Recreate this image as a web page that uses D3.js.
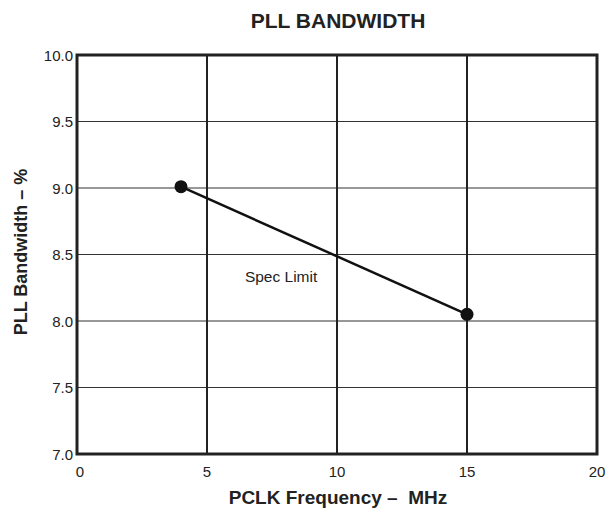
<!DOCTYPE html>
<html>
<head>
<meta charset="utf-8">
<script src="https://cdn.jsdelivr.net/npm/d3@7"></script>
<style>
  body { margin: 0; background: #fff; }
  text { font-family: "Liberation Sans", Arial, sans-serif; fill: #222; }
</style>
</head>
<body>
<svg width="614" height="512"></svg>
<script>
// chart data
const freqMHz = [4, 15];
const bandwidthPct = [9.01, 8.05];
const xTicks = [0, 5, 10, 15, 20];
const yTicks = [7.0, 7.5, 8.0, 8.5, 9.0, 9.5, 10.0];

const svg = d3.select("svg");
// plot box edges (window.top is taken, so prefix them)
const plotLeft = 77, plotRight = 597, plotTop = 55, plotBottom = 454;

const x = d3.scaleLinear().domain([0, 20]).range([plotLeft, plotRight]);
const y = d3.scaleLinear().domain([7, 10]).range([plotBottom, plotTop]);

// horizontal grid
svg.selectAll("line.hgrid")
    .data(yTicks.slice(1, -1))
    .join("line")
    .attr("x1", plotLeft).attr("x2", plotRight)
    .attr("y1", d => y(d)).attr("y2", d => y(d))
    .attr("stroke", "#333").attr("stroke-width", 1.2);

// vertical grid
svg.selectAll("line.vgrid")
    .data(xTicks.slice(1, -1))
    .join("line")
    .attr("x1", d => x(d)).attr("x2", d => x(d))
    .attr("y1", plotTop).attr("y2", plotBottom)
    .attr("stroke", "#222").attr("stroke-width", 2);

// frame
svg.append("rect")
    .attr("x", plotLeft).attr("y", plotTop)
    .attr("width", plotRight - plotLeft).attr("height", plotBottom - plotTop)
    .attr("fill", "none").attr("stroke", "#222").attr("stroke-width", 3);

// tick labels
svg.selectAll("text.ylab")
    .data(yTicks)
    .join("text")
    .attr("x", plotLeft - 4).attr("y", d => y(d) + 5.5)
    .attr("text-anchor", "end")
    .attr("font-size", 15)
    .text(d => d.toFixed(1));

svg.selectAll("text.xlab")
    .data(xTicks)
    .join("text")
    .attr("x", d => x(d) + (d === 0 ? 3 : 0)).attr("y", plotBottom + 23)
    .attr("text-anchor", "middle")
    .attr("font-size", 15)
    .text(d => d);

// line + markers
const pts = freqMHz.map((f, i) => [f, bandwidthPct[i]]);
svg.append("path")
    .attr("d", d3.line().x(d => x(d[0])).y(d => y(d[1]))(pts))
    .attr("fill", "none").attr("stroke", "#111").attr("stroke-width", 2.5);

svg.selectAll("circle")
    .data(pts)
    .join("circle")
    .attr("cx", d => x(d[0])).attr("cy", d => y(d[1]))
    .attr("r", 6.5)
    .attr("fill", "#111");

svg.append("text")
    .attr("x", x(7.85)).attr("y", y(8.29))
    .attr("text-anchor", "middle")
    .attr("font-size", 15.5)
    .text("Spec Limit");

// titles
svg.append("text")
    .attr("x", 338).attr("y", 28)
    .attr("text-anchor", "middle")
    .attr("font-size", 21).attr("font-weight", "bold")
    .text("PLL BANDWIDTH");

svg.append("text")
    .attr("x", 338).attr("y", 504)
    .attr("text-anchor", "middle")
    .attr("xml:space", "preserve")
    .attr("font-size", 19).attr("font-weight", "bold")
    .text("PCLK Frequency –  MHz");

svg.append("text")
    .attr("transform", "translate(27, 252) rotate(-90)")
    .attr("text-anchor", "middle")
    .attr("font-size", 18).attr("font-weight", "bold")
    .text("PLL Bandwidth – %");
</script>
</body>
</html>
